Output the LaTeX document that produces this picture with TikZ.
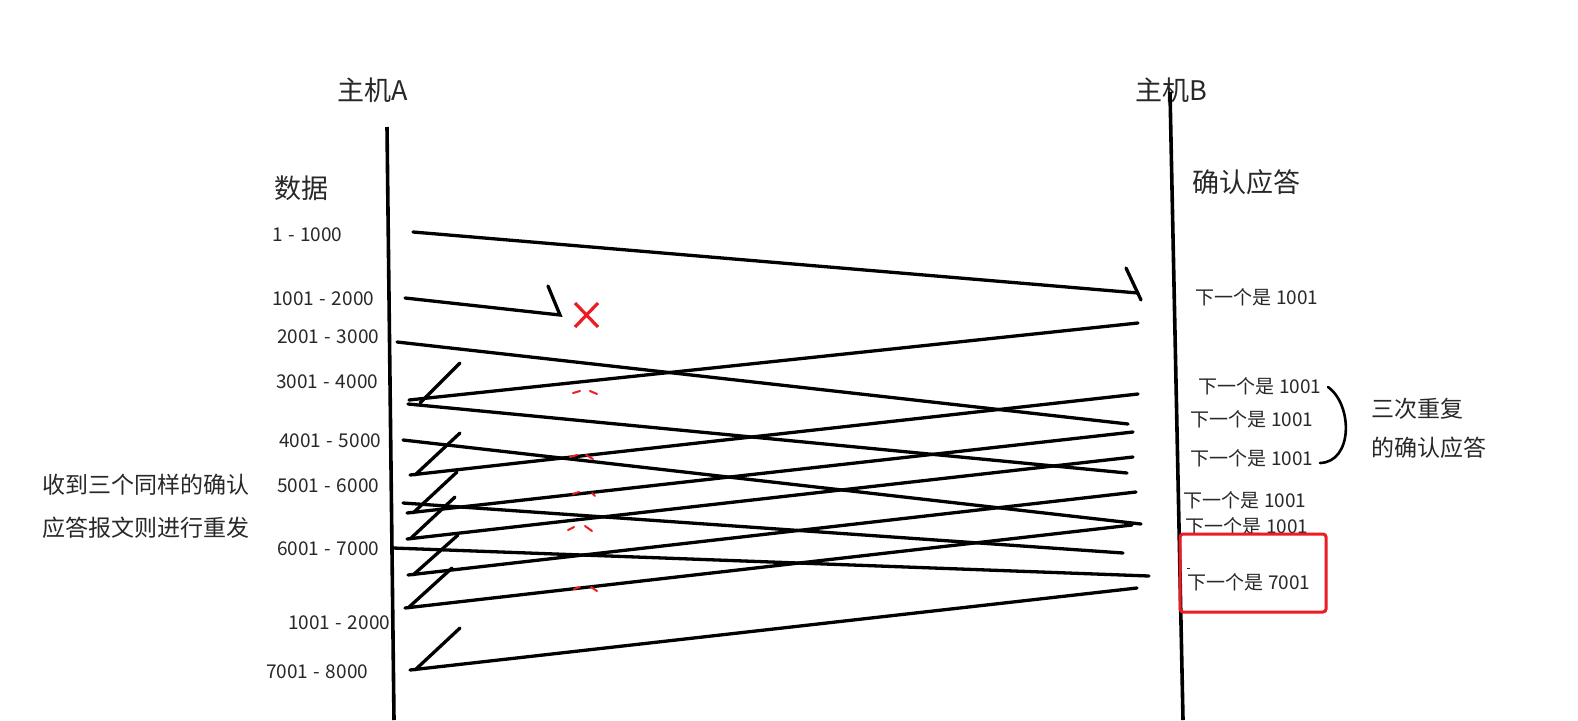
\documentclass[tikz,border=0pt]{standalone}
\usepackage{fontspec}
\setmainfont{Noto Sans CJK SC}
\definecolor{mkred}{RGB}{237,28,36}
\definecolor{txt}{RGB}{40,40,40}
\newcommand{\rng}[2]{#1\hspace{5.5pt}-\hspace{5.5pt}#2}
\newcommand{\nxt}[1]{下一个是\hspace{5pt}#1}
\begin{document}
\begin{tikzpicture}[x=1pt,y=-1pt,
  life/.style={line width=3.6pt,black},
  msg/.style={line width=3.3pt,black,line cap=round},
  lab/.style={inner sep=0pt,anchor=west,text=txt,font=\fontsize{19}{21}\selectfont},
  big/.style={inner sep=0pt,anchor=west,text=txt,font=\fontsize{27}{30}\selectfont},
  mid/.style={inner sep=0pt,anchor=west,text=txt,font=\fontsize{23}{26}\selectfont},
  rd/.style={line width=2pt,mkred,line cap=round}]
\useasboundingbox[fill=white] (0,0) rectangle (1578,720);

% titles
\node[big] (hA) at (337,90) {主机A};
\node[big] (hB) at (1135,90) {主机B};
\node[big] (dat) at (274,188) {数据};
\node[big] (ack) at (1192,182) {确认应答};

% lifelines
\coordinate (A0) at (387,127); \coordinate (A1) at (394,720);
\coordinate (B0) at (1170,92); \coordinate (B1) at (1183,720);
\draw[life] (A0) -- (A1);
\draw[life] (B0) -- (B1);

% data labels
\node[lab] (l1) at (272,235) {\rng{1}{1000}};
\node[lab] (l2) at (272,299) {\rng{1001}{2000}};
\node[lab] (l3) at (277,337) {\rng{2001}{3000}};
\node[lab] (l4) at (276,382) {\rng{3001}{4000}};
\node[lab] (l5) at (279,441) {\rng{4001}{5000}};
\node[lab] (l6) at (277,486) {\rng{5001}{6000}};
\node[lab] (l7) at (277,549) {\rng{6001}{7000}};
\node[lab] (l8) at (288,623) {\rng{1001}{2000}};
\node[lab] (l9) at (266,672) {\rng{7001}{8000}};

% ack labels
\node[lab] (r1) at (1195,297) {\nxt{1001}};
\node[lab] (r2) at (1198,386) {\nxt{1001}};
\node[lab] (r3) at (1190,419) {\nxt{1001}};
\node[lab] (r4) at (1190,458) {\nxt{1001}};
\node[lab] (r5) at (1183,500) {\nxt{1001}};
\node[lab] (r6) at (1185,526) {\nxt{1001}};
\node[lab] (r7) at (1187,582) {\nxt{7001}};
\coordinate (dd0) at (1187,568); \coordinate (dd1) at (1190,568);
\draw[line width=1pt,txt] (dd0) -- (dd1);

% red box
\coordinate (bx0) at (1180,534); \coordinate (bx1) at (1326,612);
\draw[mkred,line width=3pt,rounded corners=3pt] (bx0) rectangle (bx1);

% side notes
\node[mid] (n1) at (42,485) {收到三个同样的确认};
\node[mid] (n2) at (42,528) {应答报文则进行重发};
\node[mid] (n3) at (1371,409) {三次重复};
\node[mid] (n4) at (1371,448) {的确认应答};

% brace
\coordinate (br0) at (1328,387); \coordinate (br1) at (1320,463);
\draw[line width=2.6pt,line cap=round] (br0) .. controls (1353,405) and (1353,462) .. (br1);

% data segments A -> B
\coordinate (d1s) at (413,232); \coordinate (d1e) at (1138,293);
\coordinate (t1a) at (1126,268); \coordinate (t1b) at (1141,300);
\draw[msg] (d1s) -- (d1e); \draw[msg] (t1a) -- (t1b);

\coordinate (d2s) at (405,298); \coordinate (d2e) at (560,315);
\coordinate (t2a) at (548,286);
\draw[msg] (d2s) -- (d2e) -- (t2a);

\coordinate (x1) at (575,303); \coordinate (x2) at (598,327);
\coordinate (x3) at (598,303); \coordinate (x4) at (575,327);
\draw[mkred,line width=3.2pt] (x1) -- (x2) (x3) -- (x4);

\coordinate (d3s) at (397,342); \coordinate (d3e) at (1128,424);
\coordinate (d4s) at (408,404); \coordinate (d4e) at (1127,473);
\coordinate (d5s) at (403,440); \coordinate (d5e) at (1141,524);
\coordinate (d6s) at (403,503); \coordinate (d6e) at (1123,553);
\coordinate (d7s) at (393,548); \coordinate (d7e) at (1149,576);
\draw[msg] (d3s) -- (d3e);
\draw[msg] (d4s) -- (d4e);
\draw[msg] (d5s) -- (d5e);
\draw[msg] (d6s) -- (d6e);
\draw[msg] (d7s) -- (d7e);

% acknowledgements B -> A
\coordinate (a1s) at (1138,323); \coordinate (a1e) at (409,400);
\coordinate (a2s) at (1138,394); \coordinate (a2e) at (410,475);
\coordinate (a3s) at (1133,432); \coordinate (a3e) at (407,513);
\coordinate (a4s) at (1133,457); \coordinate (a4e) at (407,539);
\coordinate (a5s) at (1136,492); \coordinate (a5e) at (408,575);
\coordinate (a6s) at (1132,525); \coordinate (a6e) at (405,608);
\coordinate (a7s) at (1137,588); \coordinate (a7e) at (410,670);
\draw[msg] (a1s) -- (a1e);
\draw[msg] (a2s) -- (a2e);
\draw[msg] (a3s) -- (a3e);
\draw[msg] (a4s) -- (a4e);
\draw[msg] (a5s) -- (a5e);
\draw[msg] (a6s) -- (a6e);
\draw[msg] (a7s) -- (a7e);

% ticks at A
\coordinate (k1a) at (420,403); \coordinate (k1b) at (460,363);
\coordinate (k2a) at (415,475); \coordinate (k2b) at (460,433);
\coordinate (k3a) at (413,513); \coordinate (k3b) at (457,472);
\coordinate (k4a) at (410,539); \coordinate (k4b) at (455,497);
\coordinate (k5a) at (413,575); \coordinate (k5b) at (458,535);
\coordinate (k6a) at (408,608); \coordinate (k6b) at (452,568);
\coordinate (k7a) at (415,670); \coordinate (k7b) at (460,628);
\foreach \k in {1,...,7} {\draw[msg] (k\k a) -- (k\k b);}

% small red marks
\coordinate (m1a) at (573,393); \coordinate (m1b) at (580,391);
\coordinate (m1c) at (590,391); \coordinate (m1d) at (597,394);
\coordinate (m2a) at (570,457); \coordinate (m2b) at (577,455);
\coordinate (m2c) at (586,455); \coordinate (m2d) at (593,459);
\coordinate (m3a) at (573,494); \coordinate (m3b) at (579,492);
\coordinate (m3c) at (592,493); \coordinate (m3d) at (595,496);
\coordinate (m4a) at (568,530); \coordinate (m4b) at (574,527);
\coordinate (m4c) at (585,526); \coordinate (m4d) at (592,531);
\coordinate (m5a) at (574,589); \coordinate (m5b) at (580,587);
\coordinate (m5c) at (591,587); \coordinate (m5d) at (597,591);
\foreach \m in {1,...,5} {\draw[rd] (m\m a) -- (m\m b) (m\m c) -- (m\m d);}
\end{tikzpicture}
\end{document}
